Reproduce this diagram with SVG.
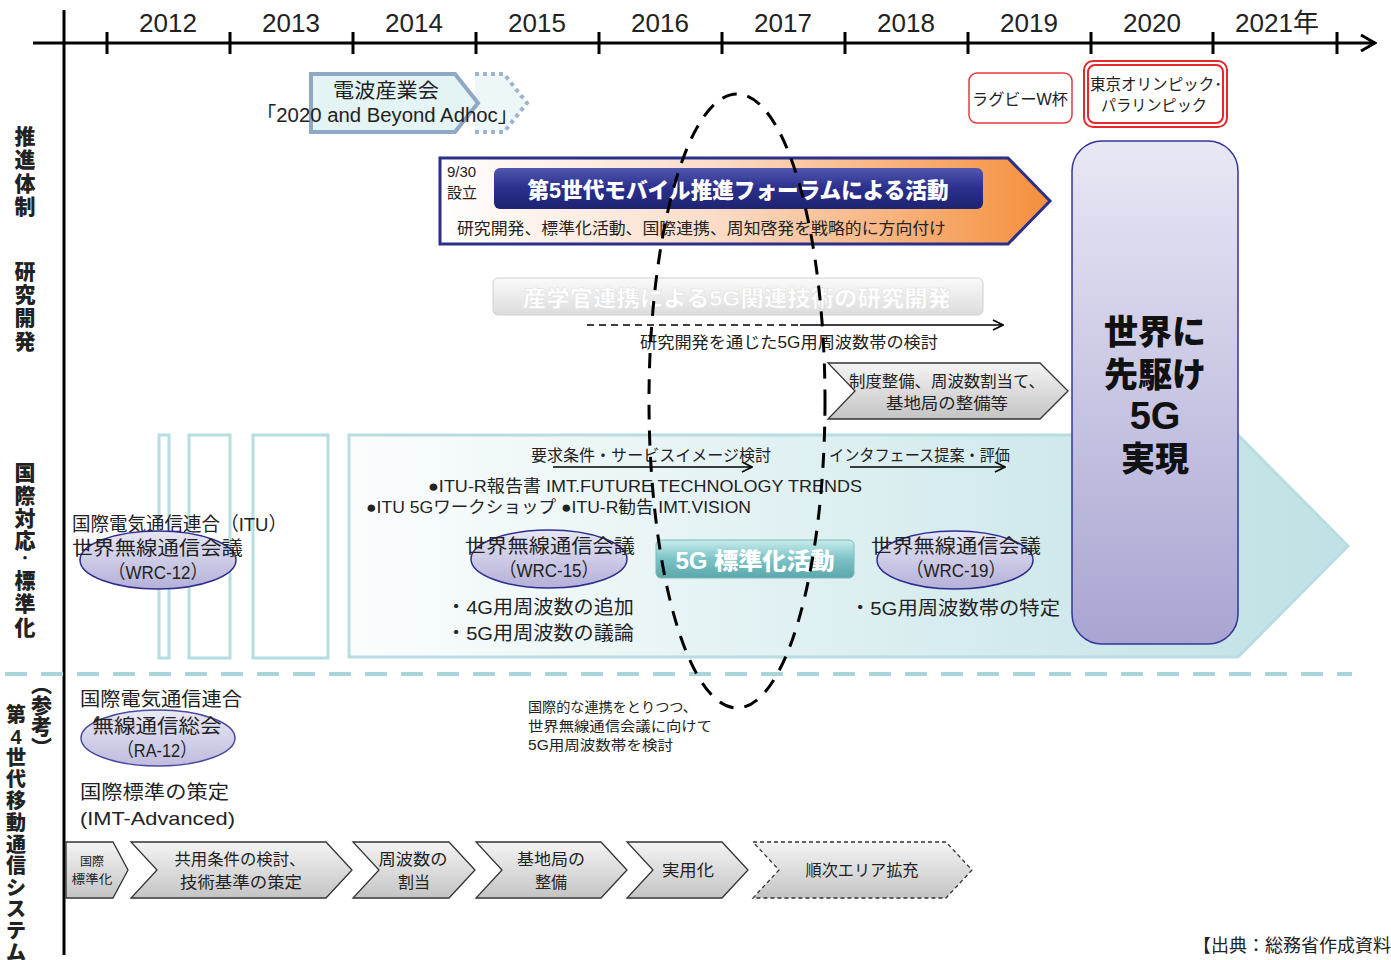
<svg xmlns="http://www.w3.org/2000/svg" width="1391" height="960" viewBox="0 0 1391 960">
<style>
text{font-family:"Liberation Sans","Noto Sans CJK JP",sans-serif;fill:#222}
.yr{font-size:26px;text-anchor:middle}
.c{text-anchor:middle}
.vt{font-size:21px;font-weight:900;text-anchor:middle}
.ax{stroke:#000;stroke-width:3;fill:none}
.ell{fill:url(#gEll);stroke:#2c2c90;stroke-width:1.5}
.chev{fill:url(#gGray);stroke:#333;stroke-width:1.3}
.strip{fill:#fff;stroke:#b6dde1;stroke-width:3}
.s19{font-size:19px}
.s16{font-size:16px}
.s15{font-size:15px}
</style>
<defs>
<linearGradient id="gForum" x1="0" y1="0" x2="1" y2="0">
<stop offset="0" stop-color="#ffffff"/><stop offset="0.45" stop-color="#fbdcc8"/><stop offset="1" stop-color="#f58f3c"/>
</linearGradient>
<linearGradient id="gNavy" x1="0" y1="0" x2="0" y2="1">
<stop offset="0" stop-color="#5156b0"/><stop offset="0.5" stop-color="#2a2f8c"/><stop offset="1" stop-color="#1f2370"/>
</linearGradient>
<linearGradient id="gSan" x1="0" y1="0" x2="0" y2="1">
<stop offset="0" stop-color="#fafafa"/><stop offset="1" stop-color="#dcdcdc"/>
</linearGradient>
<linearGradient id="gBig" x1="0" y1="0" x2="1" y2="0">
<stop offset="0" stop-color="#fbfdfd"/><stop offset="1" stop-color="#bfe1e5"/>
</linearGradient>
<linearGradient id="gPurple" x1="0" y1="0" x2="0" y2="1">
<stop offset="0" stop-color="#e8e8f5"/><stop offset="1" stop-color="#a9a5d2"/>
</linearGradient>
<linearGradient id="gEll" x1="0" y1="0" x2="0" y2="1">
<stop offset="0" stop-color="#e6e6f4"/><stop offset="1" stop-color="#b4b0d8"/>
</linearGradient>
<linearGradient id="gGray" x1="0" y1="0" x2="0" y2="1">
<stop offset="0" stop-color="#f4f4f4"/><stop offset="1" stop-color="#c4c4c4"/>
</linearGradient>
<linearGradient id="gTeal" x1="0" y1="0" x2="0" y2="1">
<stop offset="0" stop-color="#c8ecec"/><stop offset="0.5" stop-color="#7cc3c6"/><stop offset="1" stop-color="#5aa7ab"/>
</linearGradient>
<marker id="open" viewBox="0 0 12 12" refX="11" refY="6" markerWidth="12" markerHeight="12" markerUnits="userSpaceOnUse" orient="auto">
<path d="M1,1 L11,6 L1,11" fill="none" stroke="#000" stroke-width="1.6"/>
</marker>
<marker id="axArr" viewBox="0 0 20 20" refX="18" refY="10" markerWidth="20" markerHeight="20" markerUnits="userSpaceOnUse" orient="auto">
<path d="M4,2 L18,10 L4,18" fill="none" stroke="#000" stroke-width="3"/>
</marker>
</defs>
<rect width="1391" height="960" fill="#fff"/>

<!-- axis -->
<g id="axis">
<line x1="33" y1="43" x2="1375" y2="43" class="ax" marker-end="url(#axArr)"/>
<line x1="64" y1="10" x2="64" y2="955" class="ax"/>
<path class="ax" d="M107,32V54M230,32V54M353,32V54M476,32V54M599,32V54M722,32V54M845,32V54M968,32V54M1091,32V54M1213,32V54M1337,32V54"/>
<text class="yr" x="168" y="32">2012</text>
<text class="yr" x="291" y="32">2013</text>
<text class="yr" x="414" y="32">2014</text>
<text class="yr" x="537" y="32">2015</text>
<text class="yr" x="660" y="32">2016</text>
<text class="yr" x="783" y="32">2017</text>
<text class="yr" x="906" y="32">2018</text>
<text class="yr" x="1029" y="32">2019</text>
<text class="yr" x="1152" y="32">2020</text>
<text class="yr" x="1277" y="32">2021年</text>
</g>

<!-- left category labels -->
<g id="labels">
<text class="vt"><tspan x="25" y="144">推</tspan><tspan x="25" y="167">進</tspan><tspan x="25" y="191">体</tspan><tspan x="25" y="214">制</tspan></text>
<text class="vt"><tspan x="25" y="279">研</tspan><tspan x="25" y="302">究</tspan><tspan x="25" y="325">開</tspan><tspan x="25" y="349">発</tspan></text>
<text class="vt"><tspan x="25" y="480">国</tspan><tspan x="25" y="503">際</tspan><tspan x="25" y="526">対</tspan><tspan x="25" y="548">応</tspan><tspan x="25" y="563" style="font-size:12px">・</tspan><tspan x="25" y="588">標</tspan><tspan x="25" y="611">準</tspan><tspan x="25" y="635">化</tspan></text>
<text class="vt" style="writing-mode:vertical-rl" x="40" y="716">（参考）</text>
<text class="vt" style="font-size:20px"><tspan x="16" y="722">第</tspan><tspan x="16" y="744">4</tspan><tspan x="16" y="765">世</tspan><tspan x="16" y="787">代</tspan><tspan x="16" y="808">移</tspan><tspan x="16" y="830">動</tspan><tspan x="16" y="852">通</tspan><tspan x="16" y="873">信</tspan><tspan x="16" y="895">シ</tspan><tspan x="16" y="916">ス</tspan><tspan x="16" y="938">テ</tspan><tspan x="16" y="960">ム</tspan></text>
</g>

<!-- ARIB adhoc -->
<g id="arib">
<path d="M475,74 H504 L527,103 L504,132 H475" fill="#eef7f8" stroke="#9fb3cc" stroke-width="4" stroke-dasharray="4 4"/>
<path d="M311,74 H455 L478,103 L455,132 H311 Z" fill="#e4f3f4" stroke="#8ea8c5" stroke-width="4"/>
<text class="c" x="386" y="98" style="font-size:20px" textLength="106" lengthAdjust="spacingAndGlyphs">電波産業会</text>
<text class="c" x="387" y="122" style="font-size:20px" textLength="262" lengthAdjust="spacingAndGlyphs">「2020 and Beyond Adhoc」</text>
</g>

<!-- events -->
<g id="rugby">
<rect x="969" y="73" width="103" height="50" rx="8" fill="#fff" stroke="#e23b3b" stroke-width="1.5"/>
<text class="c" x="1020" y="105" style="font-size:16px" textLength="96" lengthAdjust="spacingAndGlyphs">ラグビーW杯</text>
</g>
<g id="olympic">
<rect x="1084" y="61" width="143" height="66" rx="9" fill="#fff" stroke="#e82828" stroke-width="2"/>
<rect x="1088" y="65" width="135" height="58" rx="7" fill="#fff" stroke="#e82828" stroke-width="2"/>
<text class="c" x="1156" y="90" style="font-size:16px" textLength="132" lengthAdjust="spacingAndGlyphs">東京オリンピック･</text>
<text class="c" x="1154" y="111" style="font-size:16px" textLength="106" lengthAdjust="spacingAndGlyphs">パラリンピック</text>
</g>

<!-- 5G forum -->
<g id="forum">
<path d="M440,158 H1008 L1050,201 L1008,244 H440 Z" fill="url(#gForum)" stroke="#2b2f8a" stroke-width="3"/>
<rect x="494" y="168" width="489" height="41" rx="6" fill="url(#gNavy)"/>
<text class="c" x="738" y="198" style="font-size:22px;font-weight:900;fill:#fff" textLength="421" lengthAdjust="spacingAndGlyphs">第5世代モバイル推進フォーラムによる活動</text>
<text x="447" y="177" class="s15">9/30</text>
<text x="447" y="198" class="s15">設立</text>
<text x="457" y="234" class="s16" textLength="489" lengthAdjust="spacingAndGlyphs">研究開発、標準化活動、国際連携、周知啓発を戦略的に方向付け</text>
</g>

<!-- research -->
<g id="research">
<rect x="493" y="278" width="490" height="37" rx="5" fill="url(#gSan)" stroke="#d0d0d0" stroke-width="1"/>
<text class="c" x="737" y="306" style="font-size:22px;font-weight:900;fill:#fff;stroke:#e2e2e2;stroke-width:0.6" textLength="428" lengthAdjust="spacingAndGlyphs">産学官連携による5G関連技術の研究開発</text>
<text class="c s16" x="789" y="348" textLength="298" lengthAdjust="spacingAndGlyphs">研究開発を通じた5G用周波数帯の検討</text>
</g>

<g id="seido">
<path d="M828,363 H1040 L1068,391 L1040,419 H828 L855,391 Z" fill="url(#gGray)" stroke="#333" stroke-width="1.3"/>
<text class="c s16" x="947" y="387" textLength="196" lengthAdjust="spacingAndGlyphs">制度整備、周波数割当て、</text>
<text class="c s16" x="947" y="409" textLength="122" lengthAdjust="spacingAndGlyphs">基地局の整備等</text>
</g>

<!-- international standardization -->
<g id="itu-area">
<rect class="strip" x="159" y="435" width="10" height="223"/>
<rect class="strip" x="189" y="435" width="41" height="223"/>
<rect class="strip" x="253" y="435" width="75" height="223"/>
<path d="M349,435 H1238 L1348,546 L1238,657 H349 Z" fill="url(#gBig)" stroke="#b8dde1" stroke-width="3"/>
</g>

<g id="goal">
<rect x="1072" y="141" width="166" height="503" rx="30" fill="url(#gPurple)" stroke="#34349a" stroke-width="1.5"/>
<text class="c" x="1155" y="344" style="font-size:34px;font-weight:900;fill:#111">世界に</text>
<text class="c" x="1155" y="387" style="font-size:34px;font-weight:900;fill:#111">先駆け</text>
<text class="c" x="1155" y="429" style="font-size:38px;font-weight:900;fill:#111">5G</text>
<text class="c" x="1155" y="471" style="font-size:34px;font-weight:900;fill:#111">実現</text>
</g>

<g id="itu-texts">
<text x="531" y="461" class="s16" textLength="240" lengthAdjust="spacingAndGlyphs">要求条件・サービスイメージ検討</text>
<text x="829" y="461" class="s16" textLength="181" lengthAdjust="spacingAndGlyphs">インタフェース提案・評価</text>
<text x="428" y="492" style="font-size:17px" textLength="434" lengthAdjust="spacingAndGlyphs">●ITU-R報告書 IMT.FUTURE TECHNOLOGY TRENDS</text>
<text x="366" y="513" style="font-size:17px" textLength="385" lengthAdjust="spacingAndGlyphs">●ITU 5Gワークショップ  ●ITU-R勧告 IMT.VISION</text>
<text x="72" y="531" class="s19" textLength="215" lengthAdjust="spacingAndGlyphs">国際電気通信連合（ITU）</text>
</g>

<g id="wrc12">
<ellipse class="ell" cx="158" cy="560" rx="78" ry="29"/>
<text x="72" y="555" class="s19" textLength="171" lengthAdjust="spacingAndGlyphs">世界無線通信会議</text>
<text class="c s19" x="158" y="579" textLength="99" lengthAdjust="spacingAndGlyphs">（WRC-12）</text>
</g>
<g id="wrc15">
<ellipse class="ell" cx="549" cy="559" rx="78" ry="29"/>
<text class="c s19" x="550" y="553" textLength="170" lengthAdjust="spacingAndGlyphs">世界無線通信会議</text>
<text class="c s19" x="549" y="577" textLength="99" lengthAdjust="spacingAndGlyphs">（WRC-15）</text>
<text x="446" y="614" class="s19" textLength="188" lengthAdjust="spacingAndGlyphs">・4G用周波数の追加</text>
<text x="446" y="640" class="s19" textLength="188" lengthAdjust="spacingAndGlyphs">・5G用周波数の議論</text>
</g>
<g id="std5g">
<rect x="656" y="540" width="198" height="38" rx="5" fill="url(#gTeal)" stroke="#7fb7ba" stroke-width="1"/>
<text class="c" x="755" y="569" style="font-size:23px;font-weight:900;fill:#fff" textLength="159" lengthAdjust="spacingAndGlyphs">5G 標準化活動</text>
</g>
<g id="wrc19">
<ellipse class="ell" cx="955" cy="560" rx="78" ry="29"/>
<text class="c s19" x="956" y="553" textLength="170" lengthAdjust="spacingAndGlyphs">世界無線通信会議</text>
<text class="c s19" x="956" y="577" textLength="99" lengthAdjust="spacingAndGlyphs">（WRC-19）</text>
<text x="850" y="615" class="s19" textLength="210" lengthAdjust="spacingAndGlyphs">・5G用周波数帯の特定</text>
</g>

<!-- separator -->
<line x1="5" y1="674" x2="1352" y2="674" stroke="#a8d5d9" stroke-width="4" stroke-dasharray="22 14"/>

<!-- 4G reference -->
<g id="ra12">
<text x="80" y="706" class="s19" textLength="162" lengthAdjust="spacingAndGlyphs">国際電気通信連合</text>
<text x="80" y="733" class="s19">（ITU）</text>
<ellipse class="ell" cx="158" cy="738" rx="77" ry="28" style="opacity:0.85"/>
<text class="c s19" x="157" y="733" textLength="129" lengthAdjust="spacingAndGlyphs">無線通信総会</text>
<text class="c s19" x="157" y="757" textLength="79" lengthAdjust="spacingAndGlyphs">（RA-12）</text>
<text x="80" y="799" class="s19" textLength="149" lengthAdjust="spacingAndGlyphs">国際標準の策定</text>
<text x="80" y="825" class="s19" textLength="155" lengthAdjust="spacingAndGlyphs">(IMT-Advanced)</text>
</g>
<g id="note">
<text x="528" y="712" style="font-size:14px" textLength="169" lengthAdjust="spacingAndGlyphs">国際的な連携をとりつつ、</text>
<text x="528" y="731" style="font-size:14px" textLength="184" lengthAdjust="spacingAndGlyphs">世界無線通信会議に向けて</text>
<text x="528" y="750" style="font-size:14px" textLength="145" lengthAdjust="spacingAndGlyphs">5G用周波数帯を検討</text>
</g>

<!-- 4G process chevrons -->
<g id="step1"><path class="chev" d="M66,842 H113 L128,870 L113,898 H66 Z"/>
<text class="c" x="92" y="866" style="font-size:12px">国際</text><text class="c" x="92" y="884" style="font-size:12px" textLength="41" lengthAdjust="spacingAndGlyphs">標準化</text></g>
<g id="step2"><path class="chev" d="M131,842 H326 L352,870 L326,898 H131 L157,870 Z"/>
<text class="c s16" x="240" y="865" textLength="131" lengthAdjust="spacingAndGlyphs">共用条件の検討、</text><text class="c s16" x="241" y="888" textLength="122" lengthAdjust="spacingAndGlyphs">技術基準の策定</text></g>
<g id="step3"><path class="chev" d="M353,842 H449 L475,870 L449,898 H353 L379,870 Z"/>
<text class="c s16" x="413" y="865" textLength="69" lengthAdjust="spacingAndGlyphs">周波数の</text><text class="c s16" x="414" y="888">割当</text></g>
<g id="step4"><path class="chev" d="M476,842 H601 L627,870 L601,898 H476 L502,870 Z"/>
<text class="c s16" x="551" y="865" textLength="68" lengthAdjust="spacingAndGlyphs">基地局の</text><text class="c s16" x="551" y="888">整備</text></g>
<g id="step5"><path class="chev" d="M627,842 H722 L748,870 L722,898 H627 L653,870 Z"/>
<text class="c s16" x="688" y="876" textLength="52" lengthAdjust="spacingAndGlyphs">実用化</text></g>
<g id="step6"><path d="M753,842 H946 L972,870 L946,898 H753 L779,870 Z" fill="url(#gGray)" stroke="#333" stroke-width="1.3" stroke-dasharray="4 3"/>
<text class="c s16" x="862" y="876" textLength="113" lengthAdjust="spacingAndGlyphs">順次エリア拡充</text></g>

<!-- connectors -->
<g id="connectors">
<path d="M587,325 H800" stroke="#000" stroke-width="1.5" stroke-dasharray="7 5" fill="none"/>
<line x1="800" y1="325" x2="1003" y2="325" stroke="#000" stroke-width="1.5" marker-end="url(#open)"/>
<line x1="553" y1="467" x2="752" y2="467" stroke="#000" stroke-width="1.5" marker-end="url(#open)"/>
<line x1="850" y1="467" x2="1005" y2="467" stroke="#000" stroke-width="1.5" marker-end="url(#open)"/>
<ellipse cx="737" cy="401" rx="88" ry="307" fill="none" stroke="#000" stroke-width="3" stroke-dasharray="15 11"/>
</g>

<text x="1193" y="952" style="font-size:18px">【出典：総務省作成資料】</text>
</svg>
